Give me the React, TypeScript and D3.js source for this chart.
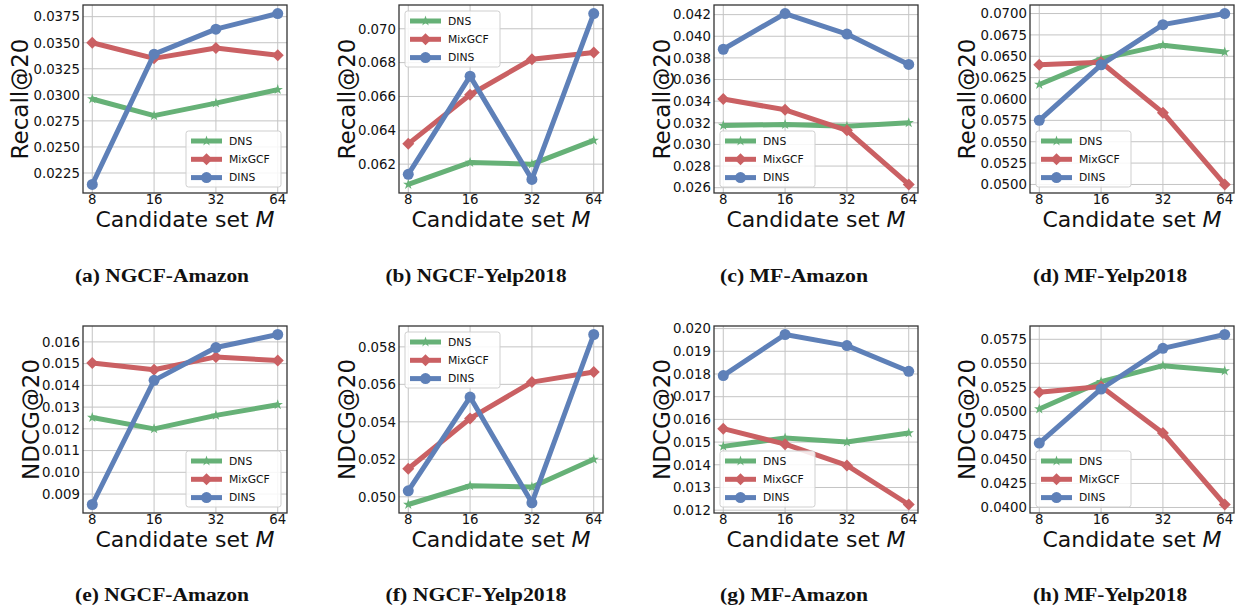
import React from "react";
import * as d3 from "d3";

const candidates = ["8", "16", "32", "64"];
const methodNames = ["DNS", "MixGCF", "DINS"];
const methodColors = ["#66b177", "#ca6063", "#5e80b8"];
const methodMarkers = ["star", "diamond", "circle"];

// (a) NGCF-Amazon Recall@20
const aDNS = [0.0296, 0.028, 0.0292, 0.0305];
const aMixGCF = [0.035, 0.0335, 0.0345, 0.0338];
const aDINS = [0.0214, 0.0339, 0.0363, 0.0378];
const aTicks = ["0.0225", "0.0250", "0.0275", "0.0300", "0.0325", "0.0350", "0.0375"];

// (b) NGCF-Yelp2018 Recall@20
const bDNS = [0.0608, 0.0621, 0.062, 0.0634];
const bMixGCF = [0.0632, 0.0661, 0.0682, 0.0686];
const bDINS = [0.0614, 0.0672, 0.0611, 0.0709];
const bTicks = ["0.062", "0.064", "0.066", "0.068", "0.070"];

// (c) MF-Amazon Recall@20
const cDNS = [0.03175, 0.03184, 0.03169, 0.032];
const cMixGCF = [0.0342, 0.0332, 0.0313, 0.0263];
const cDINS = [0.0388, 0.0421, 0.0402, 0.0374];
const cTicks = ["0.026", "0.028", "0.030", "0.032", "0.034", "0.036", "0.038", "0.040", "0.042"];

// (d) MF-Yelp2018 Recall@20
const dDNS = [0.0617, 0.0647, 0.0663, 0.0655];
const dMixGCF = [0.064, 0.0643, 0.0584, 0.05];
const dDINS = [0.0575, 0.064, 0.0687, 0.07];
const dTicks = ["0.0500", "0.0525", "0.0550", "0.0575", "0.0600", "0.0625", "0.0650", "0.0675", "0.0700"];

// (e) NGCF-Amazon NDCG@20
const eDNS = [0.01252, 0.012, 0.01262, 0.01311];
const eMixGCF = [0.01503, 0.01472, 0.01531, 0.01514];
const eDINS = [0.00852, 0.01423, 0.01574, 0.01634];
const eTicks = ["0.009", "0.010", "0.011", "0.012", "0.013", "0.014", "0.015", "0.016"];

// (f) NGCF-Yelp2018 NDCG@20
const fDNS = [0.04959, 0.05059, 0.05052, 0.052];
const fMixGCF = [0.0515, 0.05418, 0.05612, 0.05666];
const fDINS = [0.05032, 0.05532, 0.04968, 0.05866];
const fTicks = ["0.050", "0.052", "0.054", "0.056", "0.058"];

// (g) MF-Amazon NDCG@20
const gDNS = [0.01481, 0.01518, 0.015, 0.0154];
const gMixGCF = [0.01559, 0.01491, 0.01397, 0.01225];
const gDINS = [0.01793, 0.01974, 0.01925, 0.01812];
const gTicks = ["0.012", "0.013", "0.014", "0.015", "0.016", "0.017", "0.018", "0.019", "0.020"];

// (h) MF-Yelp2018 NDCG@20
const hDNS = [0.05024, 0.05309, 0.05476, 0.0542];
const hMixGCF = [0.05198, 0.0526, 0.04774, 0.04031];
const hDINS = [0.0467, 0.05233, 0.05656, 0.058];
const hTicks = ["0.0400", "0.0425", "0.0450", "0.0475", "0.0500", "0.0525", "0.0550", "0.0575"];

const captions = [
  "(a) NGCF-Amazon", "(b) NGCF-Yelp2018", "(c) MF-Amazon", "(d) MF-Yelp2018",
  "(e) NGCF-Amazon", "(f) NGCF-Yelp2018", "(g) MF-Amazon", "(h) MF-Yelp2018",
];
const yLabels = ["Recall@20", "Recall@20", "Recall@20", "Recall@20", "NDCG@20", "NDCG@20", "NDCG@20", "NDCG@20"];
const legendPlaces = ["lr", "ul", "ll", "ll", "lr", "ul", "ll", "ll"];

const panelSeries = [
  [aDNS, aMixGCF, aDINS],
  [bDNS, bMixGCF, bDINS],
  [cDNS, cMixGCF, cDINS],
  [dDNS, dMixGCF, dDINS],
  [eDNS, eMixGCF, eDINS],
  [fDNS, fMixGCF, fDINS],
  [gDNS, gMixGCF, gDINS],
  [hDNS, hMixGCF, hDINS],
];
const panelTicks = [aTicks, bTicks, cTicks, dTicks, eTicks, fTicks, gTicks, hTicks];

// layout
const frameLefts = [83, 399, 714, 1030];
const frameWidth = 204;
const rowTops = [5, 326];
const rowBottoms = [193, 513];
const captionCenters = [162, 476, 794, 1110];
const captionWidths = [174, 181, 148, 154];
const captionBaselines = [282, 601];

const SANS = "'DejaVu Sans', sans-serif";

function Marker({ kind, cx, cy, color }: { kind: string; cx: number; cy: number; color: string }) {
  if (kind === "circle") return <circle cx={cx} cy={cy} r={5.5} fill={color} />;
  if (kind === "diamond") {
    const r = 6;
    return <path d={`M${cx},${cy - r}L${cx + r},${cy}L${cx},${cy + r}L${cx - r},${cy}Z`} fill={color} />;
  }
  const star = d3.symbol().type(d3.symbolStar).size(34)();
  return <path d={star || ""} transform={`translate(${cx},${cy})`} fill={color} />;
}

function Panel({ idx }: { idx: number }) {
  const col = idx % 4;
  const row = Math.floor(idx / 4);
  const L = frameLefts[col];
  const R = L + frameWidth;
  const T = rowTops[row];
  const B = rowBottoms[row];
  const series = panelSeries[idx];
  const ticks = panelTicks[idx];

  const x = d3.scalePoint<string>().domain(candidates).range([L, R]).padding(0.15);
  const all = series.flat();
  const mn = d3.min(all) as number;
  const mx = d3.max(all) as number;
  const pad = (mx - mn) * 0.05;
  const y = d3.scaleLinear().domain([mn - pad, mx + pad]).range([B, T]);

  const line = d3
    .line<number>()
    .x((_, i) => x(candidates[i]) as number)
    .y((d) => y(d));

  const labelOffset = ticks[0].length >= 6 ? 55 : 44;

  // legend
  const lw = 95;
  const lh = 56;
  const inset = 6;
  const place = legendPlaces[idx];
  const lx = place === "lr" ? R - inset - lw : L + inset;
  const ly = place === "ul" ? T + inset : B - inset - lh;

  return (
    <g>
      {/* grid */}
      {ticks.map((t) => (
        <line key={"gy" + t} x1={L} x2={R} y1={y(+t)} y2={y(+t)} stroke="#c4c4c4" strokeWidth={1} />
      ))}
      {candidates.map((c) => (
        <line key={"gx" + c} x1={x(c)} x2={x(c)} y1={T} y2={B} stroke="#c4c4c4" strokeWidth={1} />
      ))}
      {/* series */}
      {series.map((s, si) => (
        <g key={"s" + si}>
          <path d={line(s) || ""} fill="none" stroke={methodColors[si]} strokeWidth={5} strokeLinejoin="round" />
          {s.map((v, i) => (
            <Marker key={i} kind={methodMarkers[si]} cx={x(candidates[i]) as number} cy={y(v)} color={methodColors[si]} />
          ))}
        </g>
      ))}
      {/* frame */}
      <rect x={L} y={T} width={R - L} height={B - T} fill="none" stroke="#333" strokeWidth={1.3} />
      {/* y ticks */}
      {ticks.map((t) => (
        <text key={"ty" + t} x={L - 3} y={y(+t)} dy="0.36em" textAnchor="end" fontFamily={SANS} fontSize={13.3} fill="#111">
          {t}
        </text>
      ))}
      {/* x ticks */}
      {candidates.map((c) => (
        <text key={"tx" + c} x={x(c)} y={B + 11} textAnchor="middle" fontFamily={SANS} fontSize={13.3} fill="#111">
          {c}
        </text>
      ))}
      {/* axis labels */}
      <text x={(L + R) / 2} y={B + 34} textAnchor="middle" fontFamily={SANS} fontSize={22} fill="#111">
        Candidate set <tspan fontStyle="italic">M</tspan>
      </text>
      <text
        transform={`translate(${L - labelOffset},${(T + B) / 2}) rotate(-90)`}
        textAnchor="middle"
        fontFamily={SANS}
        fontSize={23}
        fill="#111"
      >
        {yLabels[idx]}
      </text>
      {/* legend */}
      <g>
        <rect x={lx} y={ly} width={lw} height={lh} rx={2.5} fill="#fff" fillOpacity={0.85} stroke="#cfcfcf" strokeWidth={1} />
        {methodNames.map((m, mi) => {
          const ry = ly + 10 + mi * 18.3;
          return (
            <g key={m}>
              <line x1={lx + 5} x2={lx + 36} y1={ry} y2={ry} stroke={methodColors[mi]} strokeWidth={5} />
              <Marker kind={methodMarkers[mi]} cx={lx + 20.5} cy={ry} color={methodColors[mi]} />
              <text x={lx + 43} y={ry} dy="0.36em" fontFamily={SANS} fontSize={10.8} fill="#111">
                {m}
              </text>
            </g>
          );
        })}
      </g>
      {/* caption */}
      <text
        x={captionCenters[col] - captionWidths[col] / 2}
        y={captionBaselines[row]}
        textLength={captionWidths[col]}
        lengthAdjust="spacingAndGlyphs"
        fontFamily="'Liberation Serif', serif"
        fontWeight="bold"
        fontSize={18.5}
        fill="#111"
      >
        {captions[idx]}
      </text>
    </g>
  );
}

export default function App() {
  return (
    <div style={{ position: "absolute", left: 0, top: 0 }}>
      <svg width={1238} height={611} style={{ display: "block", background: "#fff" }}>
        {panelSeries.map((_, i) => (
          <Panel key={i} idx={i} />
        ))}
      </svg>
    </div>
  );
}
